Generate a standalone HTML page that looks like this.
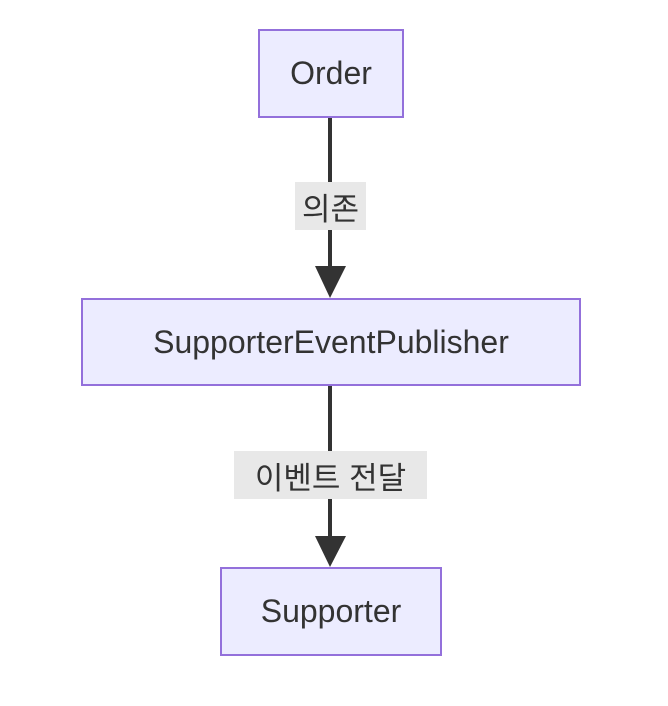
<!DOCTYPE html>
<html><head><meta charset="utf-8"><style>
html,body{margin:0;padding:0;background:#fff;}
body{width:668px;height:706px;position:relative;overflow:hidden;font-family:"Liberation Sans","Noto Sans CJK KR",sans-serif;color:#333;}
.n{position:absolute;box-sizing:border-box;background:#ECECFF;border:2px solid #9370DB;display:flex;align-items:center;justify-content:center;font-size:32px;}
.l{position:absolute;background:#e8e8e8;display:flex;align-items:center;justify-content:center;font-size:31px;color:#333;}
</style></head><body>
<svg width="668" height="706" style="position:absolute;left:0;top:0">
<line x1="330" y1="117" x2="330" y2="270" stroke="#333" stroke-width="4"/>
<polygon points="315,266 346,266 330,298" fill="#333"/>
<line x1="330" y1="385" x2="330" y2="540" stroke="#333" stroke-width="4"/>
<polygon points="315,536 346,536 330,567" fill="#333"/>
</svg>
<div class="n" style="left:258px;top:29px;width:146px;height:89px;">Order</div>
<div class="n" style="left:81px;top:298px;width:500px;height:88px;">SupporterEventPublisher</div>
<div class="n" style="left:220px;top:567px;width:222px;height:89px;">Supporter</div>
<div class="l" style="left:295px;top:182px;width:71px;height:48px;">의존</div>
<div class="l" style="left:234px;top:451px;width:193px;height:48px;">이벤트 전달</div>
</body></html>
